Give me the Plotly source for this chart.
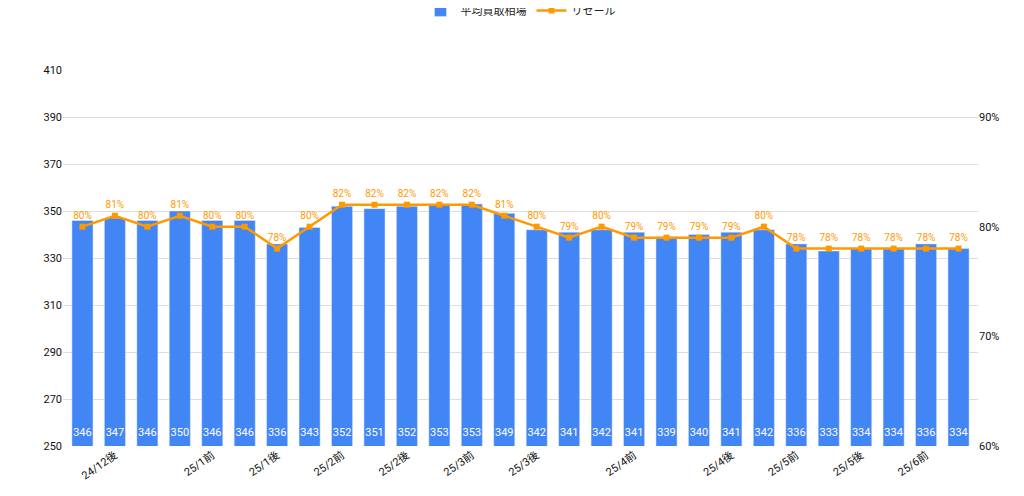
import plotly.graph_objects as go

values = [346, 347, 346, 350, 346, 346, 336, 343, 352, 351, 352, 353, 353, 349,
          342, 341, 342, 341, 339, 340, 341, 342, 336, 333, 334, 334, 336, 334]
resale = [80, 81, 80, 81, 80, 80, 78, 80, 82, 82, 82, 82, 82, 81,
          80, 79, 80, 79, 79, 79, 79, 80, 78, 78, 78, 78, 78, 78]
tick_idx = [1, 4, 6, 8, 10, 12, 14, 17, 20, 22, 24, 26]
tick_text = ["24/12後", "25/1前", "25/1後", "25/2前", "25/2後", "25/3前",
             "25/3後", "25/4前", "25/4後", "25/5前", "25/5後", "25/6前"]

x = list(range(len(values)))
BLUE = "#4285F4"
ORANGE = "#FF9900"
Y_MIN, Y_MAX = 250, 410

fig = go.Figure()
fig.add_trace(go.Bar(
    x=x, y=values, name="平均買取相場", marker_color=BLUE, width=0.65,
))
# bar value labels sitting at the bottom of each bar
fig.add_trace(go.Scatter(
    x=x, y=[Y_MIN + 3] * len(values), mode="text", text=[str(v) for v in values],
    textposition="top center", textfont=dict(color="white", size=11),
    showlegend=False, hoverinfo="skip",
))
fig.add_trace(go.Scatter(
    x=x, y=[r / 100 for r in resale], name="リセール", yaxis="y2",
    mode="lines+markers+text", line=dict(color=ORANGE, width=2.5),
    marker=dict(color=ORANGE, size=6, symbol="square"),
    text=[f"{r}%" for r in resale], textposition="top center",
    textfont=dict(color=ORANGE, size=10),
))

fig.update_layout(
    width=1024, height=496, plot_bgcolor="white", paper_bgcolor="white",
    font=dict(family="Roboto, Noto Sans CJK JP", size=11, color="#222"),
    margin=dict(l=55, r=54, t=62, b=58, autoexpand=False),
    legend=dict(orientation="h", x=0.5, xanchor="center", y=1.12, yanchor="bottom",
                font=dict(size=11)),
    xaxis=dict(tickmode="array", tickvals=tick_idx, ticktext=tick_text, tickangle=-35,
               range=[-0.6, len(values) - 0.4], showgrid=False, ticks="",
               tickfont=dict(size=11, color="#111")),
    yaxis=dict(range=[Y_MIN, Y_MAX], tick0=250, dtick=20, gridcolor="#dddddd",
               zeroline=False, tickfont=dict(color="#111")),
    yaxis2=dict(overlaying="y", side="right", range=[0.6, 0.6 + 160 / 140 * 0.3],
                tickvals=[0.6, 0.7, 0.8, 0.9], tickformat=".0%", showgrid=False,
                zeroline=False, tickfont=dict(color="#111")),
)

fig.write_html("out.html")
